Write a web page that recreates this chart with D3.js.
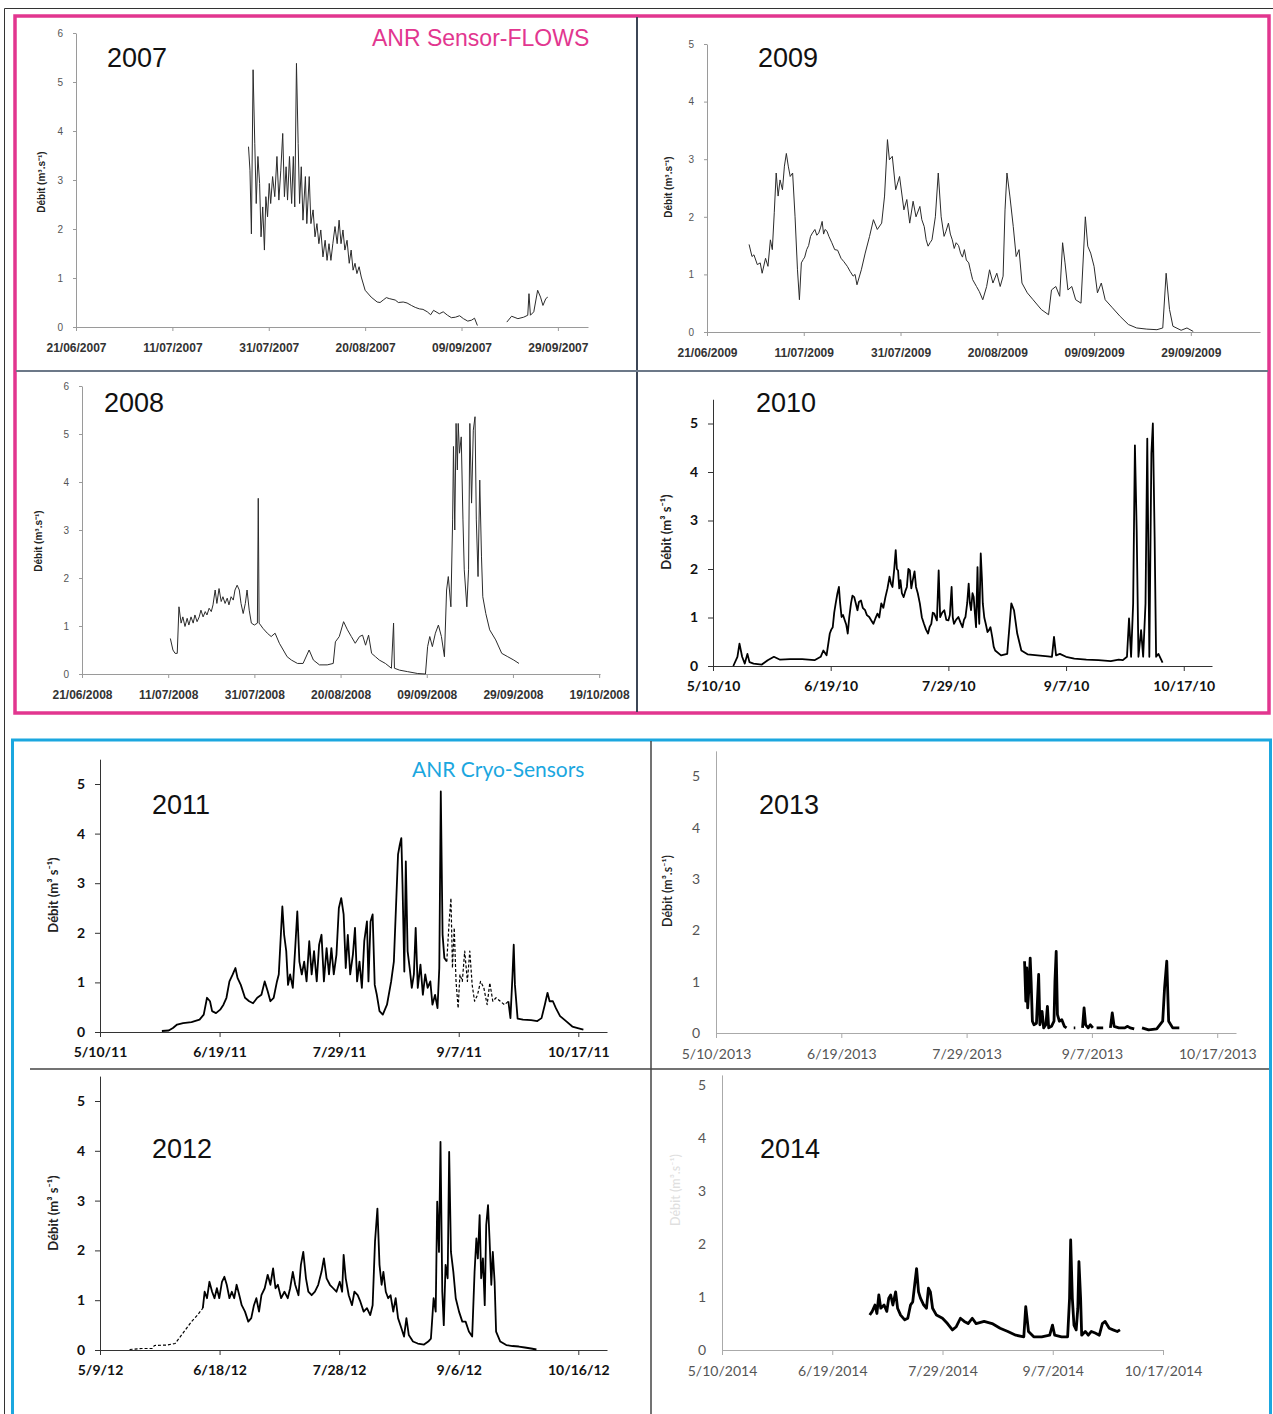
<!DOCTYPE html>
<html>
<head>
<meta charset="utf-8">
<script src="https://cdn.jsdelivr.net/npm/d3@7"></script>
<style>
  body { margin: 0; background: #fff; }
  svg { display: block; }
</style>
</head>
<body>
<script>
// discharge series, [days since first x tick, value in m3/s]
// null = gap in the record

var ticks2007 = ["21/06/2007", "11/07/2007", "31/07/2007", "20/08/2007", "09/09/2007", "29/09/2007"];
var q2007 = [[35.8,3.68],[36.1,3.2],[36.4,1.9],[36.75,5.25],[37.1,3.75],[37.4,2.52],[37.75,3.48],[38.1,2.93],[38.4,1.84],[38.75,2.45],[39.1,1.57],[39.4,2.66],[39.75,2.25],[40.1,2.93],[40.4,2.52],[40.8,3.07],[41.25,2.66],[41.7,3.48],[42.1,2.59],[42.5,3.2],[42.9,3.95],[43.25,2.66],[43.6,3.27],[43.9,2.59],[44.3,3.48],[44.75,2.52],[45.1,3.48],[45.4,2.45],[45.75,5.38],[46.1,3.75],[46.4,2.52],[46.75,3.27],[47.1,2.18],[47.6,3.07],[47.9,2.11],[48.4,3.07],[48.75,2.11],[49.2,2.39],[49.6,1.84],[50,2.11],[50.4,1.7],[50.8,1.98],[51.25,1.43],[51.7,1.77],[52.1,1.36],[52.5,1.7],[52.9,1.36],[53.3,1.7],[53.75,2.05],[54.2,1.7],[54.6,2.18],[55,1.7],[55.4,1.98],[55.8,1.57],[56.25,1.77],[56.7,1.3],[57.1,1.57],[57.5,1.16],[57.9,1.3],[58.3,1.09],[58.75,1.23],[59.2,1.02],[60,0.75],[61.25,0.61],[62.5,0.51],[63.1,0.5],[63.75,0.55],[64.4,0.6],[65,0.58],[66.25,0.55],[66.9,0.5],[67.9,0.51],[68.7,0.49],[69.6,0.44],[70.4,0.4],[71.25,0.37],[72,0.36],[72.9,0.31],[73.6,0.25],[74.2,0.34],[75.4,0.27],[76.2,0.31],[77.1,0.24],[77.9,0.19],[78.75,0.2],[79.6,0.23],[80.4,0.17],[81.3,0.12],[82.1,0.14],[82.7,0.18],[83.3,0.03],
  [86,null],
  [89.4,0.1],[90.4,0.22],[91.7,0.17],[92.9,0.2],[93.75,0.24],[94,0.68],[94.3,0.24],[95,0.31],[95.8,0.75],[96.4,0.61],[96.9,0.44],[97.5,0.58],[97.9,0.61]];

var ticks2009 = ["21/06/2009", "11/07/2009", "31/07/2009", "20/08/2009", "09/09/2009", "29/09/2009"];
var q2009 = [[8.7,1.52],[9.3,1.31],[9.7,1.34],[10.4,1.17],[11.0,1.2],[11.4,1.02],[12.1,1.28],[12.6,1.14],[13.1,1.6],[13.5,1.43],[13.9,2.07],[14.3,2.76],[14.7,2.36],[15.1,2.64],[15.6,2.47],[16.0,2.88],[16.4,3.1],[16.8,2.88],[17.2,2.7],[17.7,2.76],[18.2,2.0],[18.7,1.08],[19.1,0.56],[19.5,1.2],[19.9,1.26],[20.2,1.3],[20.6,1.43],[21.0,1.5],[21.4,1.66],[21.8,1.72],[22.3,1.78],[22.7,1.68],[23.1,1.72],[23.5,1.82],[23.8,1.92],[24.1,1.7],[24.4,1.78],[24.8,1.75],[25.2,1.66],[25.8,1.55],[26.4,1.43],[27.0,1.42],[27.7,1.28],[28.3,1.22],[29.0,1.14],[29.6,1.05],[30.2,0.97],[30.6,1.0],[31.0,0.82],[31.9,1.08],[32.7,1.37],[33.6,1.66],[34.4,1.95],[35.2,1.78],[36.1,1.89],[36.7,2.36],[37.3,3.34],[37.7,2.99],[38.3,3.05],[39.0,2.47],[39.8,2.7],[40.7,2.12],[41.3,2.3],[41.9,1.89],[42.6,2.27],[43.2,2.0],[44.0,2.18],[44.4,1.95],[44.9,1.83],[45.3,1.6],[45.7,1.49],[46.1,1.55],[46.5,1.6],[47.2,2.0],[47.8,2.76],[48.4,2.0],[49.0,1.66],[49.4,1.75],[49.9,1.89],[50.3,1.7],[50.7,1.6],[51.1,1.45],[51.5,1.55],[52.0,1.5],[52.4,1.37],[52.8,1.3],[53.2,1.43],[53.6,1.25],[54.1,1.2],[54.5,1.05],[54.9,0.91],[55.3,0.85],[55.7,0.79],[56.3,0.7],[57.0,0.56],[57.8,0.79],[58.4,1.08],[59.1,0.85],[59.9,1.02],[60.6,0.79],[61.2,0.97],[61.6,2.12],[62.0,2.76],[62.6,2.36],[63.3,1.83],[63.9,1.31],[64.5,1.43],[65.1,0.85],[66.2,0.68],[67.4,0.56],[69.1,0.39],[70.6,0.3],[71.2,0.73],[72.1,0.79],[72.9,0.62],[73.5,1.55],[74.0,1.2],[74.6,0.73],[75.4,0.79],[76.2,0.56],[77.3,0.5],[78.2,2.0],[78.7,1.49],[79.3,1.37],[80.0,1.14],[80.7,0.68],[81.5,0.85],[82.3,0.56],[83.8,0.42],[85.4,0.27],[87.1,0.13],[88.8,0.07],[90.9,0.05],[93.0,0.04],[94.2,0.07],[94.9,1.02],[95.6,0.39],[96.3,0.1],[98.0,0.03],[99.2,0.07],[100.5,0.01]];

var ticks2008 = ["21/06/2008", "11/07/2008", "31/07/2008", "20/08/2008", "09/09/2008", "29/09/2008", "19/10/2008"];
var q2008 = [[20.5,0.74],[21.1,0.5],[21.6,0.43],[22.1,0.43],[22.5,1.4],[23.0,1.06],[23.4,1.19],[23.9,0.99],[24.4,1.16],[24.8,1.02],[25.3,1.19],[25.8,1.06],[26.2,1.23],[26.7,1.09],[27.2,1.19],[27.6,1.33],[28.1,1.19],[28.6,1.3],[29.0,1.23],[29.5,1.37],[30.0,1.3],[30.4,1.44],[30.9,1.75],[31.3,1.47],[31.8,1.78],[32.3,1.51],[32.7,1.61],[33.2,1.47],[33.7,1.58],[34.1,1.44],[34.6,1.61],[35.1,1.54],[35.5,1.75],[36.0,1.85],[36.5,1.75],[36.9,1.47],[37.4,1.26],[37.9,1.47],[38.3,1.75],[38.8,1.33],[39.3,1.06],[40.0,1.02],[40.7,1.06],[40.9,3.66],[41.1,1.06],[42.0,0.95],[43.0,0.85],[43.9,0.78],[44.8,0.85],[45.8,0.64],[46.7,0.5],[47.6,0.36],[48.6,0.29],[50.0,0.22],[51.3,0.22],[52.7,0.5],[53.7,0.29],[55.1,0.19],[56.9,0.19],[58.3,0.22],[58.8,0.67],[59.7,0.78],[60.7,1.09],[61.6,0.92],[62.5,0.78],[63.4,0.64],[64.4,0.78],[65.1,0.81],[65.8,0.6],[66.5,0.81],[67.2,0.43],[68.1,0.36],[69.0,0.29],[70.4,0.22],[71.8,0.12],[72.3,1.06],[72.5,0.12],[73.7,0.08],[75.5,0.05],[77.9,0.01],[79.7,0],[80.2,0.57],[80.7,0.78],[81.3,0.57],[82.0,0.85],[82.7,1.02],[83.4,0.78],[84.1,0.36],[84.6,1.75],[85.0,2.03],[85.6,1.4],[86.0,3.21],[86.2,4.74],[86.5,3.0],[86.8,5.22],[87.1,4.25],[87.3,5.22],[87.6,4.6],[88.0,4.94],[88.4,3.21],[88.7,2.17],[89.3,1.4],[89.7,2.17],[90.0,5.22],[90.4,3.56],[90.8,5.08],[91.2,5.36],[91.5,3.21],[91.9,2.03],[92.3,4.04],[92.7,2.44],[93.0,1.61],[93.7,1.26],[94.6,0.92],[96.0,0.71],[97.4,0.43],[98.8,0.36],[100.2,0.29],[101.4,0.22]];

var ticks2010 = ["5/10/10", "6/19/10", "7/29/10", "9/7/10", "10/17/10"];
var q2010 = [[6.9,0],[8.3,0.19],[9.0,0.46],[9.9,0.19],[10.8,0.05],[11.7,0.25],[12.4,0.08],[13.8,0.05],[16.6,0.03],[18.6,0.12],[20.7,0.19],[22.8,0.13],[26.2,0.14],[30.3,0.14],[34.5,0.12],[36.6,0.19],[37.5,0.32],[38.6,0.22],[39.7,0.67],[40.2,0.75],[40.7,0.8],[41.2,1.1],[41.7,1.29],[42.3,1.5],[42.8,1.63],[43.2,1.3],[43.7,1.01],[44.2,1.05],[44.8,0.94],[45.3,0.85],[45.8,0.67],[46.3,1.0],[46.9,1.29],[47.4,1.45],[48.0,1.42],[48.5,1.3],[49.1,1.15],[49.6,1.32],[50.3,1.35],[50.9,1.2],[51.7,1.15],[52.3,1.05],[53.1,1.01],[53.7,0.95],[54.5,0.87],[55.2,0.98],[55.9,1.08],[56.5,1.0],[57.2,1.29],[57.9,1.2],[58.6,1.42],[59.3,1.6],[60.0,1.84],[60.5,1.7],[61.0,1.63],[61.6,2.0],[62.1,2.39],[62.5,2.0],[62.9,1.97],[63.3,1.6],[63.7,1.77],[64.2,1.5],[64.8,1.42],[65.4,1.55],[65.9,1.63],[66.4,2.0],[66.9,1.97],[67.4,1.6],[67.9,1.77],[68.5,1.95],[69.0,1.63],[69.6,1.5],[70.3,1.29],[71.0,1.0],[71.7,0.87],[72.4,0.75],[73.1,0.67],[73.6,0.8],[74.2,0.87],[74.7,1.1],[75.2,1.08],[75.7,1.0],[76.1,0.94],[76.7,1.97],[77.2,1.01],[77.9,1.1],[78.6,1.15],[79.3,0.95],[80.0,0.94],[80.5,1.05],[81.1,1.63],[81.5,1.0],[81.9,0.87],[82.6,0.95],[83.4,1.01],[84.1,0.9],[84.8,0.8],[85.3,0.95],[85.8,1.01],[86.4,1.3],[86.9,1.7],[87.3,1.3],[87.7,1.15],[88.2,1.5],[88.6,1.42],[89.0,1.1],[89.4,0.8],[89.9,2.04],[90.2,1.2],[90.5,0.87],[91.0,2.32],[91.4,1.8],[91.7,1.29],[92.2,1.0],[92.7,0.87],[93.3,0.7],[93.8,0.74],[94.3,0.8],[94.9,0.6],[95.4,0.4],[95.9,0.32],[97.9,0.22],[100.0,0.25],[101.4,1.29],[102.3,1.15],[103.4,0.67],[104.8,0.32],[106.9,0.24],[110.3,0.22],[113.8,0.2],[115.2,0.19],[115.9,0.6],[116.6,0.22],[117.9,0.25],[120.0,0.19],[122.8,0.15],[126.9,0.13],[131.0,0.12],[135.2,0.1],[137.9,0.13],[139.3,0.12],[140.7,0.19],[141.4,0.98],[142.1,0.19],[142.8,1.29],[143.4,4.55],[144.0,2.8],[144.6,0.19],[145.5,0.74],[146.2,0.19],[147.0,1.29],[147.6,4.69],[148.3,0.19],[149.0,4.38],[149.5,5.0],[150.1,2.66],[150.6,0.19],[151.4,0.25],[152.8,0.07]];

var ticks2011 = ["5/10/11", "6/19/11", "7/29/11", "9/7/11", "10/17/11"];
var q2011 = [[20.7,0.02],[23.0,0.03],[24.4,0.08],[25.8,0.15],[27.8,0.18],[30.6,0.2],[33.3,0.25],[34.7,0.35],[35.8,0.69],[36.8,0.62],[37.5,0.42],[38.8,0.38],[40.2,0.45],[41.3,0.55],[42.3,0.69],[43.3,1.02],[44.4,1.16],[45.3,1.29],[46.0,1.09],[47.1,0.95],[48.5,0.69],[49.9,0.62],[51.2,0.58],[52.6,0.69],[54.0,0.75],[55.1,1.02],[56.1,0.82],[57.0,0.62],[58.1,0.69],[59.2,1.02],[59.8,1.16],[60.5,1.96],[61.0,2.53],[61.6,1.96],[62.3,1.63],[62.9,0.95],[63.6,1.16],[64.5,0.89],[65.3,1.69],[66.0,2.43],[66.7,1.42],[67.5,1.16],[68.3,1.42],[69.1,1.02],[70.0,1.83],[70.8,1.16],[71.6,1.63],[72.5,1.02],[73.3,1.76],[74.1,1.96],[74.9,1.02],[75.8,1.69],[76.6,1.16],[77.4,1.69],[78.2,1.16],[79.1,1.56],[79.9,2.5],[80.7,2.7],[81.5,2.37],[82.2,1.29],[82.9,1.96],[83.7,1.16],[84.6,1.56],[85.3,2.1],[86.0,1.02],[86.8,1.42],[87.6,0.89],[88.4,1.83],[89.3,2.23],[89.8,1.02],[90.5,2.23],[91.2,2.37],[91.9,0.95],[92.6,0.75],[93.5,0.42],[94.6,0.35],[96.0,0.55],[97.4,1.02],[98.3,1.42],[99.0,2.5],[99.7,3.58],[100.3,3.78],[100.8,3.91],[101.2,2.97],[101.8,1.22],[102.3,3.44],[102.9,1.63],[103.6,1.29],[104.3,0.89],[105.0,1.16],[105.6,2.1],[106.3,0.89],[107.2,1.36],[108.0,0.75],[108.8,1.16],[109.6,0.89],[110.5,1.02],[111.2,0.55],[112.1,0.75],[112.9,0.48],[113.5,1.29],[114.0,4.85],[114.6,1.96],[115.2,1.49],[116.0,1.42],
  [126,null],
  [136.6,0.62],[137.3,0.28],[138.0,1.16],[138.4,1.76],[138.8,0.95],[139.7,0.27],[141.5,0.25],[144.2,0.24],[146.3,0.22],[147.7,0.28],[148.8,0.55],[149.7,0.79],[150.4,0.62],[151.5,0.62],[152.5,0.48],[153.9,0.32],[155.9,0.22],[158.0,0.11],[159.8,0.08],[161.7,0.05]];
// gap-filled stretch, drawn dashed
var q2011Est = [[116.0,1.42],[116.8,2.23],[117.4,2.7],[117.9,1.29],[118.5,2.1],[119.1,1.02],[119.8,0.48],[120.4,1.16],[121.2,1.02],[122.0,1.63],[122.9,1.02],[123.7,1.63],[124.5,0.95],[125.3,0.62],[126.3,0.75],[127.3,1.02],[128.4,0.89],[129.5,0.55],[130.4,0.99],[131.4,0.62],[132.5,0.69],[133.9,0.62],[135.3,0.55],[136.6,0.62]];

var ticks2012 = ["5/9/12", "6/18/12", "7/28/12", "9/6/12", "10/16/12"];
var q2012Est = [[9.9,0.01],[14.0,0.03],[17.5,0.03],[18.2,0.09],[22.3,0.1],[25.1,0.13],[26.4,0.23],[28.5,0.4],[30.6,0.57],[32.6,0.7],[34.4,0.84]];
var q2012 = [[34.4,0.84],[35.0,1.17],[35.8,1.04],[36.6,1.37],[37.5,1.17],[38.3,1.04],[39.1,1.24],[39.9,1.04],[40.8,1.37],[41.6,1.47],[42.4,1.31],[43.3,1.04],[44.1,1.17],[44.9,1.04],[45.7,1.31],[46.6,1.1],[47.4,0.9],[48.5,0.77],[49.6,0.57],[50.6,0.64],[51.5,0.9],[52.3,1.04],[53.2,0.77],[54.0,1.1],[55.1,1.24],[56.1,1.51],[57.0,1.31],[57.9,1.64],[58.7,1.24],[59.5,1.31],[60.6,1.04],[61.7,1.17],[62.8,1.04],[63.6,1.24],[64.5,1.57],[65.3,1.31],[66.4,1.1],[67.2,1.71],[68.0,1.97],[68.9,1.44],[69.7,1.17],[70.8,1.1],[71.9,1.17],[73.0,1.31],[74.1,1.57],[74.9,1.84],[75.8,1.44],[76.9,1.31],[78.0,1.24],[79.1,1.17],[80.2,1.37],[81.0,1.17],[81.5,1.91],[82.2,1.44],[83.2,1.1],[84.3,0.9],[85.1,1.17],[86.2,1.1],[87.1,0.97],[88.2,0.77],[89.3,0.84],[90.4,0.7],[91.2,0.9],[92.0,2.18],[92.8,2.84],[93.5,1.71],[94.2,1.31],[94.8,1.57],[95.6,1.17],[96.4,1.04],[97.2,1.1],[98.1,0.77],[98.9,1.04],[99.7,0.64],[100.8,0.44],[101.7,0.27],[102.5,0.64],[103.3,0.3],[104.7,0.17],[106.3,0.13],[108.4,0.11],[109.8,0.17],[110.7,0.23],[111.6,1.04],[112.3,0.77],[112.8,2.98],[113.4,1.97],[113.9,4.18],[114.5,1.17],[115.0,0.5],[115.6,1.71],[116.3,1.44],[116.8,3.98],[117.4,1.97],[118.2,1.57],[119.0,1.04],[120.1,0.77],[121.2,0.57],[122.3,0.57],[123.4,0.37],[124.5,0.27],[125.3,1.57],[125.9,2.24],[126.4,1.84],[127.0,2.71],[127.5,1.44],[128.1,1.84],[128.7,0.9],[129.2,2.51],[129.8,2.91],[130.3,2.24],[130.9,1.31],[131.4,1.97],[132.0,1.37],[132.5,0.37],[133.9,0.17],[135.9,0.1],[138.0,0.08],[140.1,0.07],[142.1,0.05],[144.2,0.03],[146.0,0.01]];

var ticks2013 = ["5/10/2013", "6/19/2013", "7/29/2013", "9/7/2013", "10/17/2013"];
var q2013 = [[98.5,1.4],[98.9,0.62],[99.2,1.27],[99.5,0.49],[99.9,0.88],[100.3,1.46],[100.6,1.0],[101.0,0.23],[101.5,0.16],[102.3,0.19],[103.0,1.14],[103.4,0.16],[104.1,0.42],[104.6,0.1],[105.3,0.16],[105.8,0.52],[106.2,0.1],[107.1,0.13],[107.9,0.23],[108.2,1.0],[108.6,1.59],[109.0,0.36],[109.6,0.23],[110.4,0.26],[111.2,0.13],[111.9,0.1],
  [113,null],[114.2,0.1],[114.7,0.1],[116,null],
  [117.0,0.1],[117.5,0.49],[118.0,0.16],[118.8,0.1],[119.5,0.16],[120.3,0.1],
  [121,null],[121.5,0.1],[123.6,0.1],[125,null],
  [125.9,0.1],[126.5,0.39],[127.1,0.13],[128.6,0.1],[130.5,0.1],[131.4,0.13],[132.2,0.1],[133.5,0.08],
  [135,null],
  [136.0,0.1],[138.1,0.06],[140.7,0.08],[142.6,0.23],[143.2,0.88],[143.9,1.4],[144.5,0.23],[145.8,0.1],[147.9,0.1]];

var ticks2014 = ["5/10/2014", "6/19/2014", "7/29/2014", "9/7/2014", "10/17/2014"];
var q2014 = [[53.6,0.66],[54.5,0.73],[55.5,0.85],[56.2,0.69],[56.9,1.04],[57.6,0.79],[58.8,0.85],[59.8,0.73],[60.5,0.98],[61.2,1.04],[62.0,0.85],[63.0,1.1],[63.7,0.79],[64.8,0.66],[66.3,0.57],[67.4,0.6],[68.4,0.85],[69.2,0.91],[69.9,1.23],[70.6,1.54],[71.3,1.1],[72.0,0.98],[73.2,0.85],[74.2,0.79],[74.9,1.17],[75.6,1.1],[76.4,0.79],[77.8,0.66],[80.0,0.6],[81.8,0.5],[83.6,0.38],[85.0,0.44],[86.5,0.6],[87.9,0.54],[89.3,0.5],[90.8,0.6],[92.2,0.5],[95.1,0.54],[98.0,0.5],[100.9,0.41],[103.7,0.35],[106.6,0.28],[109.5,0.25],[110.2,0.82],[111.2,0.35],[113.1,0.25],[116.0,0.25],[118.9,0.28],[119.9,0.47],[120.7,0.28],[123.2,0.25],[125.4,0.25],[126.1,0.98],[126.5,2.08],[127.1,0.98],[127.7,0.47],[128.5,0.38],[129.1,0.79],[129.5,1.67],[130.1,0.98],[130.5,0.28],[131.8,0.35],[132.9,0.28],[134.0,0.35],[135.4,0.32],[136.9,0.28],[138.0,0.5],[139.0,0.54],[140.5,0.41],[141.9,0.38],[143.4,0.35],[144.4,0.38]];

var fontArial = "'Liberation Sans', Arial, sans-serif";
var fontCal = "Lato, 'Open Sans', sans-serif";

// three looks used by the source figures
var styles = {
  old:   {axis: "#9a9a9a", text: "#333", ytext: "#555", font: fontArial, xSize: 12, xWeight: "bold", ySize: 10, yWeight: "normal",
          xTick: 4, xPad: 12, yTick: 3, yPad: 10, line: "#2b2b2b", width: 1,
          label: "Débit (m³.s⁻¹)", labelSize: 10, labelWeight: "bold"},
  mid:   {axis: "#333", text: "#111", ytext: "#111", font: fontCal, xSize: 14, xWeight: "bold", ySize: 14, yWeight: "bold",
          xTick: 5, xPad: 10, yTick: 5, yPad: 10, line: "#000", width: 1.8,
          label: "Débit  (m³ s⁻¹)", labelSize: 13, labelWeight: "bold"},
  light: {axis: "#aaa", text: "#555", ytext: "#555", font: fontCal, xSize: 14, xWeight: "normal", ySize: 14, yWeight: "normal",
          xTick: 5, xPad: 11, yTick: 0, yPad: 16, line: "#000", width: 2.8,
          label: "Débit (m³.s⁻¹)", labelSize: 12.5, labelWeight: "600"}
};

var panels = [
  {year: "2007", ticks: ticks2007, fmt: "%d/%m/%Y", end: 106.25, x0: 76, x1: 588, y0: 327, unit: 49, yMax: 6, yTop: 6,
   style: "old", series: [{d: q2007}], yearX: 107, yearY: 67, labX: 41, labY: 182},
  {year: "2009", ticks: ticks2009, fmt: "%d/%m/%Y", end: 114.3, x0: 707, x1: 1260, y0: 332, unit: 57.6, yMax: 5, yTop: 5,
   style: "old", series: [{d: q2009}], yearX: 758, yearY: 67, labX: 668, labY: 187},
  {year: "2008", ticks: ticks2008, fmt: "%d/%m/%Y", end: 120.2, x0: 82, x1: 600, y0: 674, unit: 48, yMax: 6, yTop: 6,
   style: "old", series: [{d: q2008}], yearX: 104, yearY: 412, labX: 38, labY: 541},
  {year: "2010", ticks: ticks2010, fmt: "%m/%d/%y", end: 169.6, x0: 713, x1: 1212, y0: 666, unit: 48.5, yMax: 5, yTop: 5.5,
   style: "mid", series: [{d: q2010}], yearX: 756, yearY: 412, labX: 666, labY: 532},
  {year: "2011", ticks: ticks2011, fmt: "%m/%d/%y", end: 169.6, x0: 100, x1: 607, y0: 1032, unit: 49.6, yMax: 5, yTop: 5.5,
   style: "mid", series: [{d: q2011}, {d: q2011Est, dash: "3,2"}], yearX: 152, yearY: 814, labX: 53, labY: 895},
  {year: "2013", ticks: ticks2013, fmt: "%m/%d/%Y", end: 166, x0: 716, x1: 1236, y0: 1033, unit: 51.3, yMax: 5, yTop: 5.5,
   style: "light", series: [{d: q2013}], yearX: 759, yearY: 814, labX: 668, labY: 891},
  {year: "2012", ticks: ticks2012, fmt: "%m/%d/%y", end: 169.6, x0: 100, x1: 607, y0: 1350, unit: 49.8, yMax: 5, yTop: 5.5,
   style: "mid", series: [{d: q2012}, {d: q2012Est, dash: "3,2"}], yearX: 152, yearY: 1158, labX: 53, labY: 1213},
  {year: "2014", ticks: ticks2014, fmt: "%m/%d/%Y", end: 160, x0: 722, x1: 1163, y0: 1350, unit: 52.9, yMax: 5, yTop: 5.2,
   style: "light", series: [{d: q2014}], yearX: 760, yearY: 1158, labX: 676, labY: 1190, faintLabel: true}
];

var W = 1273, H = 1414;
var svg = d3.select("body").append("svg")
    .attr("width", W)
    .attr("height", H);

svg.append("rect").attr("width", W).attr("height", H).attr("fill", "#fff");

// outer frame of the scanned page
svg.append("path")
    .attr("d", "M4.5," + H + "V8.5H" + W)
    .attr("fill", "none")
    .attr("stroke", "#333")
    .attr("stroke-width", 1);

// project boxes
var pink = "#e2368f", blue = "#1ba7df";

svg.append("rect")
    .attr("x", 15).attr("y", 16).attr("width", 1254).attr("height", 697)
    .attr("fill", "none").attr("stroke", pink).attr("stroke-width", 3.5);
svg.append("line").attr("x1", 637).attr("x2", 637).attr("y1", 17).attr("y2", 712)
    .attr("stroke", "#3c4656").attr("stroke-width", 2);
svg.append("line").attr("x1", 16).attr("x2", 1268).attr("y1", 371).attr("y2", 371)
    .attr("stroke", "#6c7888").attr("stroke-width", 2);

svg.append("rect")
    .attr("x", 12.5).attr("y", 740).attr("width", 1258).attr("height", 720)
    .attr("fill", "none").attr("stroke", blue).attr("stroke-width", 3);
svg.append("line").attr("x1", 651).attr("x2", 651).attr("y1", 741).attr("y2", H)
    .attr("stroke", "#444").attr("stroke-width", 1.5);
svg.append("line").attr("x1", 30).attr("x2", 1269).attr("y1", 1069).attr("y2", 1069)
    .attr("stroke", "#444").attr("stroke-width", 1.5);

svg.append("text")
    .attr("x", 372).attr("y", 46)
    .attr("font-family", fontArial).attr("font-size", 23)
    .attr("fill", pink)
    .text("ANR Sensor-FLOWS");

svg.append("text")
    .attr("x", 412).attr("y", 777)
    .attr("font-family", fontCal).attr("font-size", 21)
    .attr("fill", blue)
    .text("ANR Cryo-Sensors");

panels.forEach(function(p) {
    var st = styles[p.style];
    var parse = d3.timeParse(p.fmt);
    var tickDates = p.ticks.map(parse);
    var start = tickDates[0];
    var day = function(n) { return new Date(+start + n * 864e5); };

    var x = d3.scaleTime()
        .domain([start, day(p.end)])
        .range([p.x0, p.x1]);

    var y = d3.scaleLinear()
        .domain([0, p.yTop])
        .range([p.y0, p.y0 - p.yTop * p.unit]);

    var g = svg.append("g").attr("class", "panel-" + p.year);

    // x axis
    var gx = g.append("g")
        .attr("transform", "translate(0," + p.y0 + ")")
        .call(d3.axisBottom(x)
            .tickValues(tickDates)
            .tickFormat(function(d, i) { return p.ticks[i]; })
            .tickSize(st.xTick)
            .tickSizeOuter(0)
            .tickPadding(st.xPad));

    // y axis
    var gy = g.append("g")
        .attr("transform", "translate(" + p.x0 + ",0)")
        .call(d3.axisLeft(y)
            .tickValues(d3.range(0, p.yMax + 1))
            .tickFormat(d3.format("d"))
            .tickSize(st.yTick)
            .tickSizeOuter(0)
            .tickPadding(st.yPad));

    [gx, gy].forEach(function(a) {
        a.select(".domain").attr("stroke", st.axis).attr("stroke-width", 1);
        a.selectAll(".tick line").attr("stroke", st.axis);
    });
    gx.selectAll("text")
        .attr("font-family", st.font).attr("font-size", st.xSize)
        .attr("font-weight", st.xWeight).attr("fill", st.text);
    gy.selectAll("text")
        .attr("font-family", st.font).attr("font-size", st.ySize)
        .attr("font-weight", st.yWeight).attr("fill", st.ytext);

    // axis title
    g.append("text")
        .attr("transform", "translate(" + p.labX + "," + p.labY + ") rotate(-90)")
        .attr("text-anchor", "middle")
        .attr("dy", "0.35em")
        .attr("font-family", st.font)
        .attr("font-size", st.labelSize)
        .attr("font-weight", st.labelWeight)
        .attr("fill", p.faintLabel ? "#000" : "#222")
        .attr("opacity", p.faintLabel ? 0.12 : 1)
        .text(st.label);

    // year
    g.append("text")
        .attr("x", p.yearX).attr("y", p.yearY)
        .attr("font-family", fontArial)
        .attr("font-size", 27)
        .attr("fill", "#111")
        .text(p.year);

    var line = d3.line()
        .defined(function(d) { return d[1] !== null; })
        .x(function(d) { return x(day(d[0])); })
        .y(function(d) { return y(d[1]); });

    p.series.forEach(function(s) {
        g.append("path")
            .datum(s.d)
            .attr("d", line)
            .attr("fill", "none")
            .attr("stroke", st.line)
            .attr("stroke-width", s.dash ? 1.2 : st.width)
            .attr("stroke-dasharray", s.dash || null)
            .attr("stroke-linejoin", "round");
    });
});
</script>
</body>
</html>
